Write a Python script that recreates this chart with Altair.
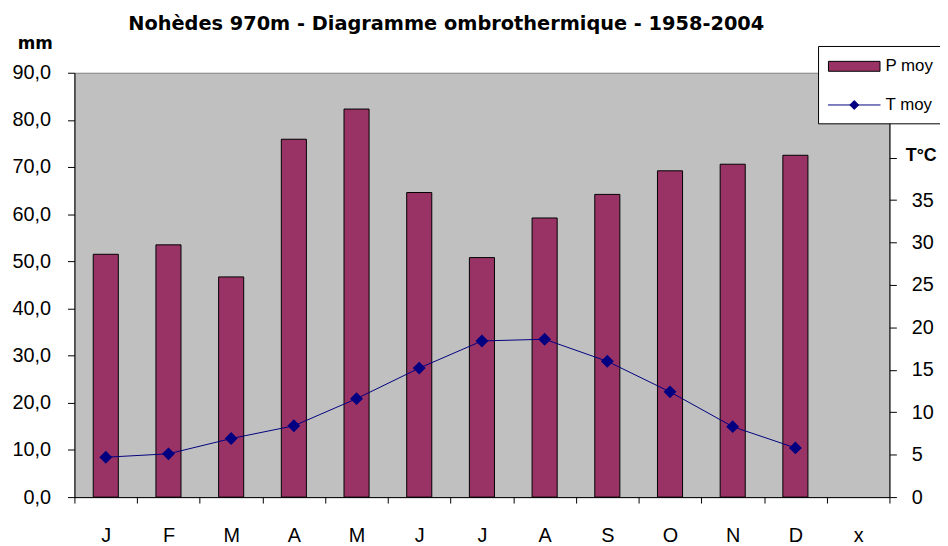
import altair as alt
import pandas as pd

# ---- data ----
months = ["J", "F", "M", "A", "M", "J", "J", "A", "S", "O", "N", "D"]
extra_cat = "x"
precip = [51.5, 53.5, 46.7, 75.9, 82.3, 64.6, 50.8, 59.2, 64.2, 69.2, 70.6, 72.5]
temp = [4.7, 5.1, 6.9, 8.4, 11.6, 15.2, 18.4, 18.6, 16.0, 12.4, 8.3, 5.8]
series = ["P moy", "T moy"]
p_ticks = [0, 10, 20, 30, 40, 50, 60, 70, 80, 90]
t_ticks = [0, 5, 10, 15, 20, 25, 30, 35, 40]
title_text = "Nohèdes 970m - Diagramme ombrothermique - 1958-2004"
p_unit = "mm"
t_unit = "T°C"

cats = months + [extra_cat]
idx = list(range(len(cats)))
label_js = "[" + ",".join("'%s'" % c for c in cats) + "][datum.value]"

p_df = pd.DataFrame({"idx": idx[:len(months)], "val": precip, "serie": series[0]})
t_df = pd.DataFrame({"idx": idx[:len(months)], "val": temp, "serie": series[1]})

path_p = "M-2.6,-0.5H2.6V0.5H-2.6Z"
path_t = "M-2.65,0H2.65M0,-0.45L0.45,0L0,0.45L-0.45,0Z"

legend = alt.Legend(
    title=None, orient="none", legendX=750, legendY=-27,
    fillColor="white", strokeColor="black", padding=10,
    symbolSize=400, symbolOffset=16, labelOffset=21, rowPadding=20,
    labelFontSize=17, labelFont="Liberation Sans", labelColor="black",
    symbolStrokeWidth=1, zindex=2,
)
fill_enc = alt.Fill("serie:N", scale=alt.Scale(domain=series, range=["#993366", "#000080"]), legend=legend)
stroke_enc = alt.Stroke("serie:N", scale=alt.Scale(domain=series, range=["#000000", "#000080"]), legend=legend)
shape_enc = alt.Shape("serie:N", scale=alt.Scale(domain=series, range=[path_p, path_t]), legend=legend)

axis_common = dict(domainColor="black", tickColor="black", labelColor="black",
                   labelFont="Liberation Sans", labelFontSize=20, grid=False,
                   domainWidth=1, tickWidth=1, zindex=1)

x_enc = alt.X(
    "idx:O",
    scale=alt.Scale(domain=idx, paddingInner=0, paddingOuter=0),
    axis=alt.Axis(title=None, labelExpr=label_js, labelAngle=0, tickBand="extent",
                  tickSize=6, labelPadding=23, **axis_common),
)

bars = alt.Chart(p_df).mark_bar(width=alt.RelativeBandSize(0.4), strokeWidth=1).encode(
    x=x_enc,
    y=alt.Y("val:Q", scale=alt.Scale(domain=[0, 90], nice=False),
            axis=alt.Axis(values=p_ticks,
                          labelExpr="replace(format(datum.value, '.1f'), '.', ',')",
                          title=p_unit, titleAngle=0, titleX=-40, titleY=-29,
                          titleAlign="center", titleBaseline="middle",
                          titleFont="DejaVu Sans", titleFontWeight="bold", titleFontSize=17,
                          titleColor="black", tickSize=7, labelPadding=17, **axis_common)),
    fill=fill_enc,
    stroke=stroke_enc,
)

y_t = alt.Y("val:Q", scale=alt.Scale(domain=[0, 50], nice=False),
            axis=alt.Axis(orient="right", values=t_ticks,
                          labelExpr="datum.value == 40 ? '' : datum.label",
                          title=t_unit, titleAngle=0, titleX=16, titleY=84,
                          titleAlign="left", titleBaseline="middle",
                          titleFont="Liberation Sans", titleFontWeight="bold", titleFontSize=18,
                          titleColor="black",
                          tickSize=7, labelPadding=15, **axis_common))

line = alt.Chart(t_df).mark_line(strokeWidth=1).encode(x=x_enc, y=y_t, stroke=stroke_enc)
points = alt.Chart(t_df).mark_point(filled=True, size=835, strokeWidth=0, opacity=1).encode(
    x=x_enc, y=y_t, fill=fill_enc, shape=shape_enc)

chart = alt.layer(bars, alt.layer(line, points)).resolve_scale(y="independent").properties(
    width=822, height=428,
    title=alt.Title(title_text, font="DejaVu Sans", fontSize=19.5, fontWeight="bold",
                    color="black", anchor="middle", frame="group", dx=-36, offset=-14,
                    baseline="alphabetic"),
    padding={"left": 67, "top": 63, "right": 51, "bottom": 47},
    autosize=alt.AutoSizeParams(type="none"),
).configure_view(fill="#C0C0C0", stroke="#808080", strokeWidth=1)

chart.save("out.html", embed_options={"renderer": "svg", "actions": False})
